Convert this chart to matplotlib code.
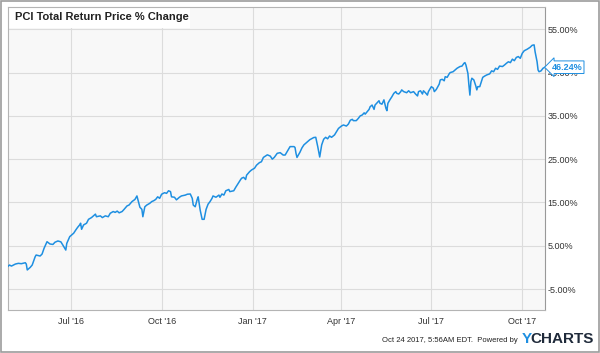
import matplotlib.pyplot as plt
from matplotlib.patches import Rectangle
import pandas as pd

plt.rcParams['font.family'] = ['Liberation Sans', 'DejaVu Sans']

# values, % change since start
days_2016 = ['04-28', '04-30', '05-02', '05-06', '05-09', '05-12', '05-16', '05-17', '05-18', '05-21',
             '05-23', '05-26', '05-27', '05-31', '06-02', '06-04', '06-07', '06-10', '06-13', '06-15',
             '06-18', '06-21', '06-23', '06-26', '06-27', '06-30', '07-02', '07-04', '07-06', '07-08',
             '07-10', '07-11', '07-12', '07-14', '07-17', '07-19', '07-22', '07-26', '07-27', '07-31',
             '08-02', '08-05', '08-08', '08-10', '08-13', '08-15', '08-17', '08-19', '08-22', '08-24',
             '08-27', '08-29', '09-01', '09-04', '09-06', '09-07', '09-09', '09-11', '09-12', '09-14',
             '09-16', '09-19', '09-21', '09-23', '09-25', '09-27', '09-29', '10-01', '10-04', '10-06',
             '10-08', '10-10', '10-11', '10-14', '10-16', '10-19', '10-21', '10-25', '10-27', '10-30',
             '11-01', '11-02', '11-04', '11-06', '11-07', '11-09', '11-11', '11-13', '11-15', '11-17',
             '11-19', '11-21', '11-22', '11-25', '11-28', '11-29', '12-01', '12-03', '12-05', '12-08',
             '12-09', '12-13', '12-15', '12-18', '12-20', '12-21', '12-23', '12-25', '12-26', '12-29',
             '12-31']
pct_2016 = [0.15, 0.54, 0.30, 0.77, 0.93, 0.85, 1.07, 0.77, -0.60, 0.00,
            0.54, 2.46, 2.85, 2.62, 3.08, 4.40, 5.93, 5.40, 5.30, 5.80,
            6.10, 5.90, 5.16, 4.00, 5.55, 7.10, 7.50, 7.90, 8.60, 9.25,
            9.80, 10.20, 8.80, 9.80, 10.20, 11.10, 11.50, 12.30, 11.70, 11.90,
            11.50, 11.90, 11.70, 12.50, 12.90, 12.70, 13.00, 12.60, 12.90, 13.40,
            14.20, 14.40, 15.20, 15.70, 16.50, 15.60, 13.90, 13.40, 11.70, 14.00,
            14.40, 14.80, 15.20, 15.40, 15.70, 16.30, 15.95, 16.90, 17.25, 17.10,
            17.70, 17.50, 16.30, 16.20, 15.60, 16.20, 16.50, 16.70, 16.90, 16.95,
            15.95, 14.40, 14.00, 15.70, 16.30, 13.25, 11.10, 11.10, 13.40, 14.60,
            15.20, 15.95, 16.50, 16.20, 16.70, 16.20, 16.95, 16.70, 17.70, 18.00,
            17.50, 17.70, 18.50, 19.60, 20.30, 20.60, 20.80, 20.30, 21.30, 22.10,
            22.50]

days_2017 = ['01-03', '01-05', '01-08', '01-10', '01-12', '01-16', '01-19', '01-21', '01-23', '01-26',
             '01-29', '02-01', '02-03', '02-06', '02-08', '02-12', '02-13', '02-14', '02-15', '02-18',
             '02-20', '02-22', '02-25', '02-28', '03-04', '03-06', '03-07', '03-08', '03-10', '03-12',
             '03-14', '03-16', '03-18', '03-20', '03-22', '03-25', '03-27', '03-29', '04-01', '04-03',
             '04-06', '04-08', '04-10', '04-12', '04-13', '04-16', '04-18', '04-20', '04-22', '04-24',
             '04-25', '04-27', '04-29', '04-30', '05-02', '05-04', '05-05', '05-07', '05-09', '05-10',
             '05-12', '05-14', '05-16', '05-17', '05-18', '05-20', '05-22', '05-24', '05-26', '05-27',
             '05-29', '05-31', '06-01', '06-03', '06-06', '06-08', '06-10', '06-13', '06-15', '06-17',
             '06-18', '06-20', '06-22', '06-23', '06-25', '06-27', '06-28', '07-01', '07-03', '07-04',
             '07-06', '07-09', '07-10', '07-12', '07-14', '07-15', '07-17', '07-19', '07-20', '07-23',
             '07-25', '07-27', '07-30', '08-01', '08-03', '08-04', '08-05', '08-07', '08-08', '08-09',
             '08-10', '08-11', '08-13', '08-15', '08-16', '08-17', '08-19', '08-22', '08-24', '08-26',
             '08-29', '08-31', '09-02', '09-04', '09-06', '09-08', '09-11', '09-13', '09-15', '09-17',
             '09-19', '09-21', '09-23', '09-25', '09-27', '09-29', '10-01', '10-03', '10-06', '10-09',
             '10-11', '10-13', '10-14', '10-16', '10-17', '10-18', '10-20', '10-22', '10-24']
pct_2017 = [22.90, 23.60, 24.20, 24.40, 25.40, 26.00, 25.70, 25.00, 25.40, 26.35,
            26.50, 25.95, 25.95, 27.10, 27.90, 27.90, 27.70, 26.35, 25.40, 26.60,
            27.60, 28.30, 28.90, 29.50, 30.00, 30.05, 29.00, 27.90, 25.50, 28.30,
            29.60, 30.05, 29.70, 30.35, 30.05, 30.60, 31.35, 32.10, 32.65, 32.90,
            32.65, 33.10, 34.00, 34.20, 33.90, 33.90, 34.40, 35.00, 35.20, 35.70,
            35.40, 35.95, 36.50, 37.10, 37.50, 36.50, 37.50, 38.00, 38.50, 37.90,
            37.70, 38.70, 36.75, 36.20, 37.90, 38.70, 39.40, 40.20, 40.60, 40.20,
            40.05, 40.60, 41.00, 40.60, 40.35, 40.80, 40.35, 40.60, 40.05, 39.60,
            40.60, 40.80, 40.05, 40.80, 40.35, 39.80, 40.60, 41.75, 41.40, 40.60,
            41.10, 42.35, 43.30, 43.45, 43.10, 44.05, 43.90, 44.70, 45.00, 45.20,
            45.60, 46.00, 46.40, 46.50, 47.15, 47.30, 46.75, 44.80, 42.10, 39.80,
            42.90, 43.70, 43.30, 41.90, 41.00, 41.75, 41.75, 43.90, 44.20, 44.45,
            44.70, 45.40, 45.20, 46.00, 45.75, 46.50, 46.40, 46.75, 47.15, 47.50,
            47.30, 48.10, 47.75, 48.50, 48.70, 48.30, 49.45, 50.05, 50.40, 50.85,
            51.30, 51.40, 49.80, 47.50, 45.60, 45.20, 45.40, 46.00, 46.24]

y_ticks = [-5, 5, 15, 25, 35, 45, 55]
x_ticks = ['2016-07-01', '2016-10-01', '2017-01-01', '2017-04-01', '2017-07-01', '2017-10-01']
x_labels = ["Jul '16", "Oct '16", "Jan '17", "Apr '17", "Jul '17", "Oct '17"]
title = 'PCI Total Return Price % Change'
footer = 'Oct 24 2017, 5:56AM EDT.  Powered by'

blue = '#1e8fe1'

dates = pd.to_datetime(['2016-' + d for d in days_2016] + ['2017-' + d for d in days_2017])
pct = pct_2016 + pct_2017

fig = plt.figure(figsize=(6, 3.53), dpi=100)
ax = fig.add_axes([0.0125, 0.1218, 0.8958, 0.857])
ax.set_facecolor('#f8f8f8')

ax.plot(dates, pct, color=blue, lw=1.1, zorder=3)

ax.set_xlim(pd.Timestamp('2016-04-28'), pd.Timestamp('2017-10-24'))
ax.set_ylim(-9.85, 60.04)

ax.yaxis.tick_right()
ax.set_yticks(y_ticks)
ax.set_yticklabels(['%.2f%%' % t for t in y_ticks])
ax.set_xticks(pd.to_datetime(x_ticks))
ax.set_xticklabels(x_labels)
ax.tick_params(axis='y', length=0, pad=2, labelsize=6.5, labelcolor='#333333')
ax.tick_params(axis='x', length=0, pad=5, labelsize=6.5, labelcolor='#333333')

ax.grid(True, color='#dcdcdc', lw=0.8)
ax.set_axisbelow(True)
for side in ['left', 'top', 'bottom']:
    ax.spines[side].set_color('#b4b4b4')
ax.spines['right'].set_color('#999999')

# title sits in a white box over the grid
ax.add_patch(Rectangle((0, 0.932), 0.34, 0.068, transform=ax.transAxes,
                       facecolor='white', edgecolor='none', zorder=2))
ax.text(0.014, 0.968, title, transform=ax.transAxes, fontsize=8, fontweight='bold',
        color='#222222', va='center', ha='left', zorder=4)

# last value tag
ax.text(1.012, pct[-1], '%.2f%%' % pct[-1], transform=ax.get_yaxis_transform(),
        fontsize=6.5, fontweight='bold', color=blue, va='center', ha='left', zorder=5,
        clip_on=False,
        bbox=dict(boxstyle='larrow,pad=0.2', facecolor='white', edgecolor=blue, lw=0.7))

# footer
fig.text(518 / 600, 1 - 342 / 353, footer, fontsize=5.5, color='#222222', ha='right', va='baseline')
fig.text(532 / 600, 1 - 343 / 353, 'Y', fontsize=11, fontweight='bold', color=blue,
         ha='right', va='baseline')
fig.text(594 / 600, 1 - 343 / 353, 'CHARTS', fontsize=11, fontweight='bold', color='#1f2a3a',
         ha='right', va='baseline')

fig.patches.append(Rectangle((0.0015, 0.0025), 0.997, 0.995, transform=fig.transFigure,
                             fill=False, edgecolor='#9c9c9c', lw=1.2))

fig.savefig('out.png', dpi=100)
